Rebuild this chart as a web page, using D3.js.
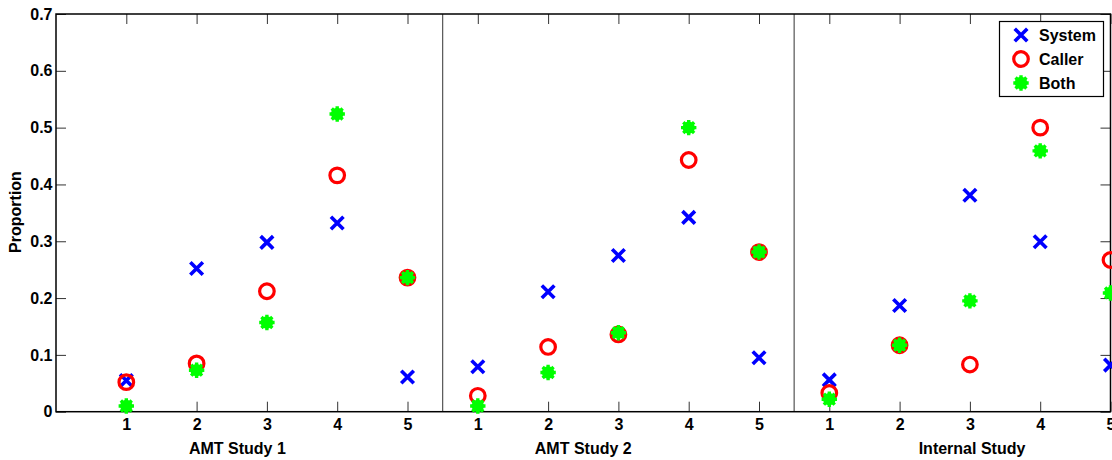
<!DOCTYPE html>
<html>
<head>
<meta charset="utf-8">
<script src="https://cdn.jsdelivr.net/npm/d3@7"></script>
<style>
  body { margin: 0; background: #fff; }
  svg text { font-family: "Liberation Sans", Arial, sans-serif; font-weight: bold; fill: #000; }
</style>
</head>
<body>
<svg id="chart" width="1112" height="460"></svg>
<script>

// Data
const studies = ['AMT Study 1', 'AMT Study 2', 'Internal Study'];
const levels = [1, 2, 3, 4, 5];
const seriesNames = ['System', 'Caller', 'Both'];

// one row per study, one value per level
const systemVals = [
  [0.055, 0.252, 0.298, 0.332, 0.061],
  [0.079, 0.211, 0.275, 0.342, 0.095],
  [0.056, 0.187, 0.381, 0.299, 0.082]
];
const callerVals = [
  [0.052, 0.085, 0.212, 0.416, 0.236],
  [0.028, 0.114, 0.136, 0.443, 0.281],
  [0.033, 0.117, 0.083, 0.500, 0.267]
];
const bothVals = [
  [0.010, 0.073, 0.157, 0.524, 0.236],
  [0.010, 0.069, 0.139, 0.500, 0.281],
  [0.022, 0.117, 0.195, 0.459, 0.209]
];
const yTicks = [0, 0.1, 0.2, 0.3, 0.4, 0.5, 0.6, 0.7];
// where each study label sits, in x units
const studyLabelPos = [2.58, 7.5, 13.03];

// Display settings
const svg = d3.select('#chart');
const plotLeft = 56, plotRight = 1110.5, plotTop = 14, plotBottom = 411.7;
const tickLen = 10;
const fontSize = 16;
const colorSystem = '#0000ff';
const colorCaller = '#ff0000';
const colorBoth = '#00ff00';

// Scales: 5 levels per study
const x = d3.scaleLinear().domain([0, 15]).range([plotLeft, plotRight]);
const y = d3.scaleLinear().domain([0, 0.7]).range([plotBottom, plotTop]);
const pos = (s, l) => s * 5 + l;

// Flatten into point rows
const points = [];
studies.forEach((st, s) => {
  levels.forEach((l, i) => {
    points.push({series: 'System', s, l, v: systemVals[s][i]});
    points.push({series: 'Caller', s, l, v: callerVals[s][i]});
    points.push({series: 'Both', s, l, v: bothVals[s][i]});
  });
});
const allX = [];
studies.forEach((st, s) => levels.forEach(l => allX.push(pos(s, l))));

function styleText(g) {
  g.selectAll('text')
    .attr('font-size', fontSize)
    .attr('font-weight', 'bold')
    .attr('font-family', '"Liberation Sans", Arial, sans-serif')
    .attr('fill', '#000');
}

// Axes (MATLAB style box with inward ticks)
const gAx = svg.append('g');
gAx.append('g')
  .attr('transform', `translate(0,${plotBottom})`)
  .call(d3.axisBottom(x).tickValues(allX).tickSizeInner(-tickLen).tickSizeOuter(0)
    .tickFormat(d => ((d - 1) % 5) + 1).tickPadding(6.5))
  .call(g => g.select('.domain').remove())
  .call(g => g.selectAll('line').attr('stroke', '#333'))
  .call(styleText);

gAx.append('g')
  .attr('transform', `translate(0,${plotTop})`)
  .call(d3.axisTop(x).tickValues(allX).tickSizeInner(-tickLen).tickSizeOuter(0).tickFormat(''))
  .call(g => g.select('.domain').remove())
  .call(g => g.selectAll('line').attr('stroke', '#333'));

gAx.append('g')
  .attr('transform', `translate(${plotLeft},0)`)
  .call(d3.axisLeft(y).tickValues(yTicks).tickSizeInner(-tickLen).tickSizeOuter(0)
    .tickFormat(d => d === 0 ? '0' : d3.format('.1f')(d)).tickPadding(3.5))
  .call(g => g.select('.domain').remove())
  .call(g => g.selectAll('line').attr('stroke', '#333'))
  .call(styleText);

gAx.append('g')
  .attr('transform', `translate(${plotRight},0)`)
  .call(d3.axisRight(y).tickValues(yTicks).tickSizeInner(-tickLen).tickSizeOuter(0).tickFormat(''))
  .call(g => g.select('.domain').remove())
  .call(g => g.selectAll('line').attr('stroke', '#333'));

// Separators between studies
svg.append('g').selectAll('line')
  .data([5.5, 10.5])
  .join('line')
  .attr('x1', d => x(d)).attr('x2', d => x(d))
  .attr('y1', plotTop).attr('y2', plotBottom)
  .attr('stroke', '#555').attr('stroke-width', 1.2);

// Box
svg.append('rect')
  .attr('x', plotLeft).attr('y', plotTop)
  .attr('width', plotRight - plotLeft).attr('height', plotBottom - plotTop)
  .attr('fill', 'none').attr('stroke', '#000').attr('stroke-width', 1.5);

// Marker drawing
function drawMarker(g, series) {
  if (series === 'System') {
    g.append('path')
      .attr('d', 'M-5,-5L5,5M-5,5L5,-5')
      .attr('stroke', colorSystem).attr('stroke-width', 3.6)
      .attr('stroke-linecap', 'square').attr('fill', 'none');
  } else if (series === 'Caller') {
    g.append('circle')
      .attr('r', 7.3)
      .attr('fill', 'none').attr('stroke', colorCaller).attr('stroke-width', 3.2);
  } else {
    // thick asterisk -> jagged green blob
    const spokes = d3.range(8).map(i => {
      const a = i * Math.PI / 4;
      return `M0,0L${(6 * Math.cos(a)).toFixed(2)},${(6 * Math.sin(a)).toFixed(2)}`;
    }).join('');
    g.append('path')
      .attr('d', spokes)
      .attr('stroke', colorBoth).attr('stroke-width', 3.4).attr('stroke-linecap', 'square');
    g.append('circle').attr('r', 6.2).attr('fill', colorBoth);
  }
}

const order = ['System', 'Caller', 'Both'];
const pts = svg.append('g').selectAll('g')
  .data(points.sort((a, b) => order.indexOf(a.series) - order.indexOf(b.series)))
  .join('g')
  .attr('transform', d => `translate(${x(pos(d.s, d.l))},${y(d.v)})`);
pts.each(function(d) { drawMarker(d3.select(this), d.series); });

// Study labels
svg.append('g').selectAll('text')
  .data(studies)
  .join('text')
  .attr('x', (d, i) => x(studyLabelPos[i]))
  .attr('y', 454)
  .attr('text-anchor', 'middle')
  .attr('font-size', fontSize)
  .text(d => d);

// Y label
svg.append('text')
  .attr('transform', `translate(21,212) rotate(-90)`)
  .attr('text-anchor', 'middle')
  .attr('font-size', fontSize)
  .text('Proportion');

// Legend
const legend = svg.append('g').attr('transform', 'translate(999.5,21.5)');
legend.append('rect')
  .attr('width', 104).attr('height', 75)
  .attr('fill', '#fff').attr('stroke', '#000').attr('stroke-width', 1.2);
const rows = legend.selectAll('g.row')
  .data(seriesNames)
  .join('g')
  .attr('class', 'row')
  .attr('transform', (d, i) => `translate(21.5,${13.5 + i * 24})`);
rows.each(function(d) { drawMarker(d3.select(this), d); });
rows.append('text')
  .attr('x', 18).attr('y', 6)
  .attr('font-size', fontSize)
  .text(d => d);

</script>
</body>
</html>
